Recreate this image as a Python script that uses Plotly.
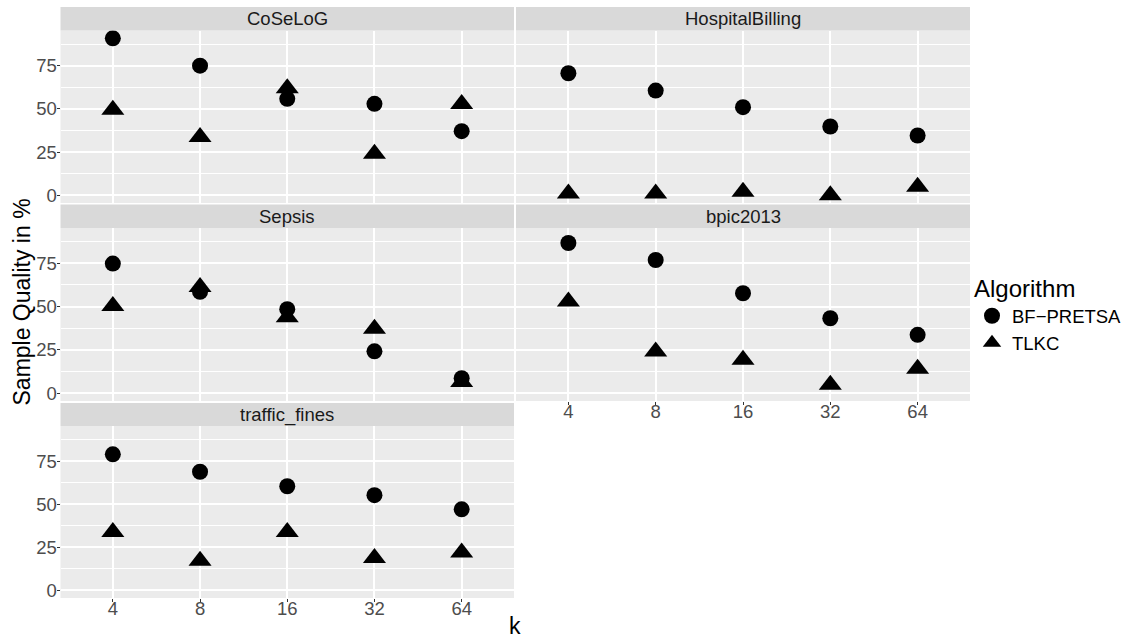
import plotly.graph_objects as go

# ---- data ----
k_labels = ["4", "8", "16", "32", "64"]
facets = ["CoSeLoG", "HospitalBilling", "Sepsis", "bpic2013", "traffic_fines"]
algorithms = ["BF−PRETSA", "TLKC"]

bf_coselog = [90.8, 75.0, 55.8, 52.9, 37.1]
tlkc_coselog = [49.5, 33.7, 62.0, 24.0, 52.8]
bf_hospital = [70.6, 60.6, 51.0, 39.8, 34.6]
tlkc_hospital = [1.0, 1.0, 2.1, 0.1, 4.9]
bf_sepsis = [74.8, 58.5, 48.5, 24.2, 8.7]
tlkc_sepsis = [50.3, 61.3, 43.8, 37.2, 6.5]
bf_bpic = [86.7, 76.9, 57.7, 43.3, 33.7]
tlkc_bpic = [52.9, 24.1, 19.3, 4.9, 14.1]
bf_traffic = [78.9, 68.8, 60.4, 55.2, 47.0]
tlkc_traffic = [33.8, 17.1, 33.8, 18.7, 22.0]

bf_values = [bf_coselog, bf_hospital, bf_sepsis, bf_bpic, bf_traffic]
tlkc_values = [tlkc_coselog, tlkc_hospital, tlkc_sepsis, tlkc_bpic, tlkc_traffic]

y_ticks = [0, 25, 50, 75]

# ---- layout geometry (pixels of a 1131x641 page) ----
W, H = 1131, 641
FONT = "Liberation Sans, Arial, Helvetica, sans-serif"
TICK_COLOR = "#4D4D4D"
col_px = [(60.5, 514.0), (516.0, 970.0)]
row_px = [(30.5, 203.0), (228.0, 401.0), (426.0, 598.0)]
strip_px = [(7.0, 30.5), (204.5, 228.0), (403.0, 426.0)]
positions = [(0, 0), (0, 1), (1, 0), (1, 1), (2, 0)]
shows_x = [False, False, False, True, True]


def px_x(p):
    return p / W


def px_y(p):
    return 1 - p / H


all_vals = [v for s in bf_values + tlkc_values for v in s]
lo, hi = min(all_vals), max(all_vals)
pad = 0.05 * (hi - lo)
y_range = [lo - pad, hi + pad]

fig = go.Figure()
layout = dict(
    width=W, height=H,
    margin=dict(l=0, r=0, t=0, b=0, autoexpand=False),
    paper_bgcolor="white",
    plot_bgcolor="#EBEBEB",
    font=dict(family=FONT, size=18.5, color="black"),
    showlegend=True,
    shapes=[], annotations=[],
)

for i, name in enumerate(facets):
    r, c = positions[i]
    xs = "" if i == 0 else str(i + 1)
    xa = dict(
        domain=[px_x(col_px[c][0]), px_x(col_px[c][1])],
        anchor="y" + xs,
        type="category",
        categoryorder="array",
        categoryarray=k_labels,
        range=[-0.6, len(k_labels) - 0.4],
        showgrid=True, gridcolor="white", gridwidth=1.8,
        zeroline=False, showline=False,
        showticklabels=shows_x[i],
        ticks="outside" if shows_x[i] else "",
        ticklen=3, tickwidth=1, tickcolor="#333333",
        ticklabelstandoff=-9,
        tickfont=dict(family=FONT, size=18.5, color=TICK_COLOR),
        automargin=False, fixedrange=True,
    )
    ya = dict(
        domain=[px_y(row_px[r][1]), px_y(row_px[r][0])],
        anchor="x" + xs,
        range=y_range,
        tickmode="array", tickvals=y_ticks,
        showgrid=True, gridcolor="white", gridwidth=1.8,
        minor=dict(showgrid=True, gridcolor="white", gridwidth=0.9, dtick=12.5, tick0=12.5),
        zeroline=True, zerolinecolor="white", zerolinewidth=1.8,
        showline=False,
        showticklabels=(c == 0),
        ticks="outside" if c == 0 else "",
        ticklen=3, tickwidth=1, tickcolor="#333333",
        ticklabelstandoff=-4,
        tickfont=dict(family=FONT, size=18.5, color=TICK_COLOR),
        automargin=False, fixedrange=True,
    )
    layout["xaxis" + xs] = xa
    layout["yaxis" + xs] = ya

    # strip
    layout["shapes"].append(dict(
        type="rect", xref="paper", yref="paper",
        x0=px_x(col_px[c][0]), x1=px_x(col_px[c][1]),
        y0=px_y(strip_px[r][1]), y1=px_y(strip_px[r][0]),
        fillcolor="#D9D9D9", line=dict(width=0), layer="below",
    ))
    layout["annotations"].append(dict(
        text=name, xref="paper", yref="paper",
        x=px_x((col_px[c][0] + col_px[c][1]) / 2),
        y=px_y((strip_px[r][0] + strip_px[r][1]) / 2),
        xanchor="center", yanchor="middle", showarrow=False,
        font=dict(family=FONT, size=18.5, color="#1A1A1A"),
    ))

    fig.add_trace(go.Scatter(
        x=k_labels, y=bf_values[i], mode="markers", name=algorithms[0],
        legendgroup=algorithms[0], showlegend=(i == 0),
        marker=dict(symbol="circle", size=16, color="black", line=dict(width=0)),
        xaxis="x" + xs, yaxis="y" + xs, hoverinfo="x+y+name",
    ))
    fig.add_trace(go.Scatter(
        x=k_labels, y=tlkc_values[i], mode="markers", name=algorithms[1],
        legendgroup=algorithms[1], showlegend=(i == 0),
        marker=dict(symbol="triangle-up", size=20, color="black", line=dict(width=0)),
        xaxis="x" + xs, yaxis="y" + xs, hoverinfo="x+y+name",
    ))

# axis titles
layout["annotations"].append(dict(
    text="k", xref="paper", yref="paper",
    x=px_x((col_px[0][0] + col_px[1][1]) / 2), y=0,
    xanchor="center", yanchor="bottom", showarrow=False,
    font=dict(family=FONT, size=23, color="black"),
))
layout["annotations"].append(dict(
    text="Sample Quality in %", xref="paper", yref="paper",
    x=px_x(21), y=px_y((strip_px[0][0] + row_px[2][1]) / 2),
    xanchor="center", yanchor="middle", showarrow=False, textangle=-90,
    font=dict(family=FONT, size=23, color="black"),
))

layout["legend"] = dict(
    title=dict(text="Algorithm", font=dict(family=FONT, size=24, color="black")),
    font=dict(family=FONT, size=18.5, color="black"),
    x=px_x(972), y=px_y(266), xanchor="left", yanchor="top",
    bgcolor="rgba(0,0,0,0)", borderwidth=0,
    itemsizing="trace", tracegroupgap=0,
)

fig.update_layout(**layout)
fig.write_html(
    "out.html",
    config={"displayModeBar": False},
    post_script="document.body.style.margin='0';document.body.style.padding='0';document.body.style.overflow='hidden';",
)
